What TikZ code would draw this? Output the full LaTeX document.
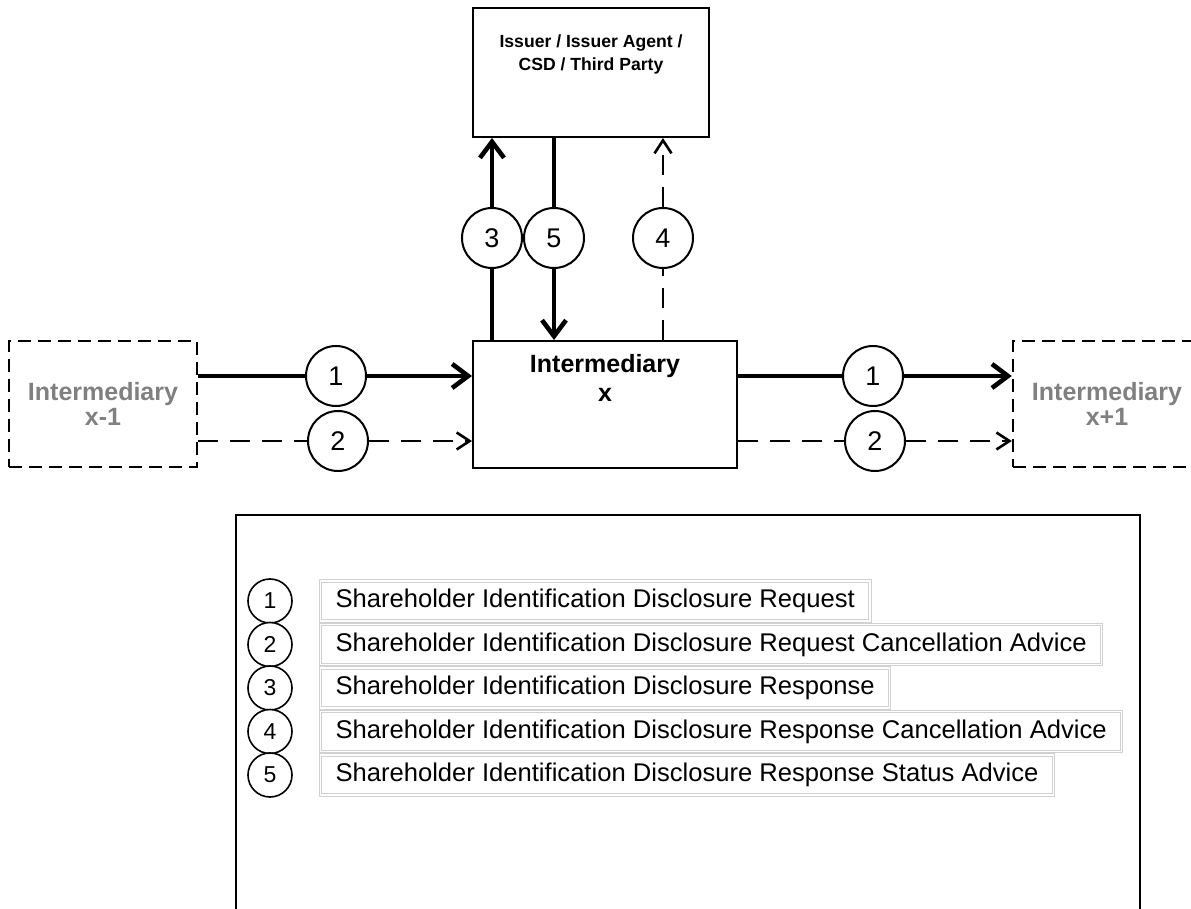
\documentclass[tikz,border=0pt]{standalone}
\usepackage{fontspec}
\setmainfont{Liberation Sans}
\usetikzlibrary{arrows.meta,positioning}
\tikzset{
  party/.style={rectangle, draw=black, line width=1pt, fill=white, inner sep=0pt},
  partylbl/.style={font=\fontsize{12.5}{14.5}\selectfont\bfseries, align=center},
  issuerlbl/.style={font=\fontsize{8.8}{11.5}\selectfont\bfseries, align=center},
  ghost/.style={rectangle, draw=black, line width=1.2pt, dash pattern=on 6.5pt off 3.5pt,
                minimum width=94pt, minimum height=63pt, align=center, text=black!50,
                font=\fontsize{12.5}{12.5}\selectfont\bfseries},
  num/.style={circle, draw=black, line width=1pt, fill=white, minimum size=30pt,
              inner sep=0pt, font=\fontsize{13.5}{14}\selectfont},
  keynum/.style={circle, draw=black, line width=0.8pt, fill=white, minimum size=22pt,
                 inner sep=0pt, font=\fontsize{11.5}{12}\selectfont},
  keytext/.style={rectangle, draw=black!18, line width=0.5pt, double=white,
                  double distance=0.6pt, anchor=west, inner xsep=7.5pt,
                  minimum height=20pt, font=\fontsize{12.8}{14}\selectfont},
  heavy/.style={line width=2.3pt},
  heavyar/.style={line width=2.3pt, -{Straight Barb[length=8pt,width=12pt]}},
  light/.style={line width=1.3pt, dash pattern=on 10pt off 6pt},
  lightar/.style={line width=1.3pt, dash pattern=on 10pt off 6pt,
                  -{Straight Barb[length=6.5pt,width=8.5pt]}},
}

\begin{document}
\begin{tikzpicture}[x=0.5pt, y=-0.5pt]
\clip (0,0) rectangle (1191,909);

% ===================== parties ===========================================
\node[party, minimum width=118pt, minimum height=64.5pt] (issuer) at (591,72.5) {};
\node[issuerlbl] (issuertxt) at (591,54) {Issuer / Issuer Agent /\\CSD / Third Party};

\node[party, minimum width=132pt, minimum height=63.5pt] (imx) at (605,404.5) {};
\node[partylbl] (imxtxt) at (605,378) {Intermediary\\x};

\node[ghost] (imprev) at (103,404) {Intermediary\\x-1};
\node[ghost] (imnext) at (1107,404) {Intermediary\\x+1};

% ===================== message numbers on the flows ======================
\node[num] (r1a) at (336,376) {1};
\node[num] (r2a) at (338,441) {2};
\node[num] (r1b) at (873,376) {1};
\node[num] (r2b) at (875,441) {2};
\node[num] (r3) at (492,238) {3};
\node[num] (r5) at (554,238) {5};
\node[num] (r4) at (663,238) {4};

% ---- x-1 -> x -> x+1 ----------------------------------------------------
\draw[heavy] (imprev.east |- r1a) -- (r1a);
\draw[heavyar] (r1a) -- (imx.west |- r1a);
\draw[light] (imprev.east |- r2a) -- (r2a);
\draw[lightar] (r2a) -- (imx.west |- r2a);
\draw[heavy] (imx.east |- r1b) -- (r1b);
\draw[heavyar] (r1b) -- (imnext.west |- r1b);
\draw[light] (imx.east |- r2b) -- (r2b);
\draw[lightar] (r2b) -- (imnext.west |- r2b);

% ---- x <-> issuer -------------------------------------------------------
\draw[heavy] (imx.north -| r3) -- (r3);
\draw[heavyar] (r3) -- (issuer.south -| r3);
\draw[heavy] (issuer.south -| r5) -- (r5);
\draw[heavyar] (r5) -- (imx.north -| r5);
\draw[light] (imx.north -| r4) -- (r4);
\draw[lightar] (r4) -- (issuer.south -| r4);

% ===================== key ===============================================
\draw[line width=0.8pt] (236,515) rectangle (1140,950);
\foreach \j/\t in {1/{Shareholder Identification Disclosure Request},
                   2/{Shareholder Identification Disclosure Request Cancellation Advice},
                   3/{Shareholder Identification Disclosure Response},
                   4/{Shareholder Identification Disclosure Response Cancellation Advice},
                   5/{Shareholder Identification Disclosure Response Status Advice}}
{
  \node[keynum] (k\j) at (270,{557.5+43.5*\j}) {\j};
  \node[keytext] (t\j) at (320,{557.5+43.5*\j}) {\t};
}

\end{tikzpicture}
\end{document}
